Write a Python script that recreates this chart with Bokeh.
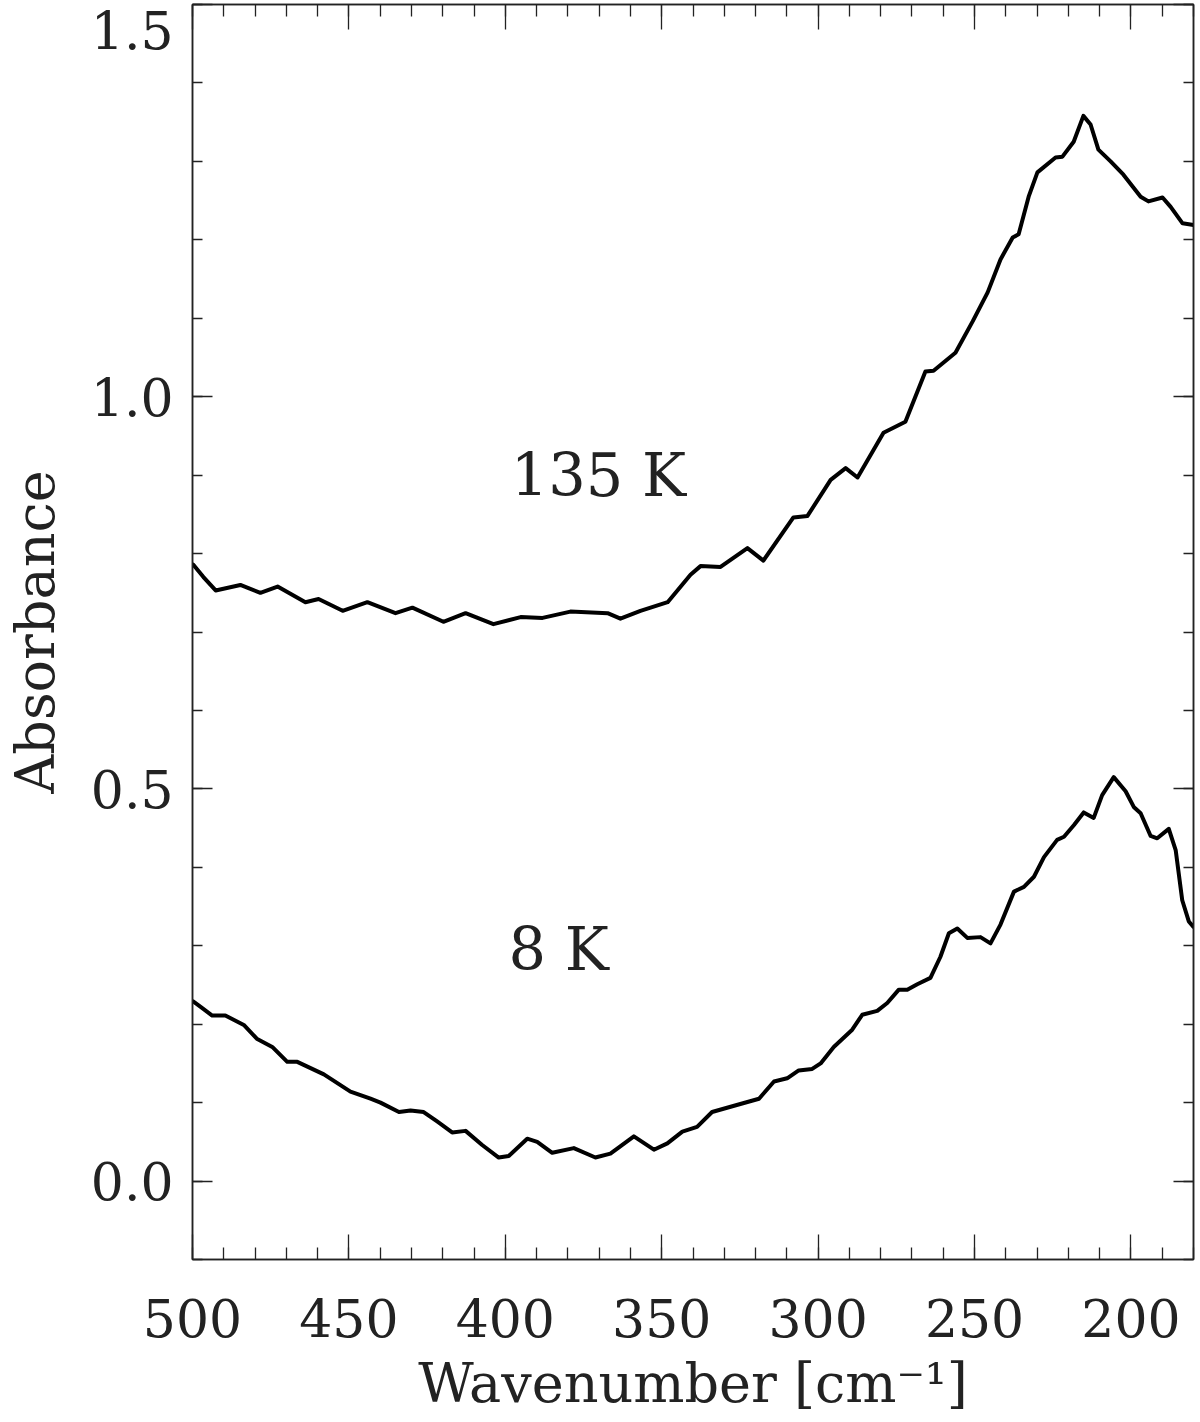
from bokeh.plotting import figure
from bokeh.models import Range1d, FixedTicker, LinearAxis, Label, PrintfTickFormatter
from bokeh.embed import file_html
from bokeh.resources import INLINE

# ---- data ----
wn_135 = [499.8, 496.5, 492.6, 484.7, 478.3, 472.8, 463.9, 459.7, 452.0, 444.1,
          435.1, 429.7, 419.8, 412.7, 403.8, 395.1, 388.1, 379.2, 367.3, 363.2,
          356.8, 348.1, 340.8, 337.6, 331.2, 322.6, 317.5, 307.9, 303.4, 296.0,
          291.2, 287.4, 279.1, 272.1, 265.7, 263.1, 256.1, 250.6, 245.8, 241.7,
          237.8, 235.9, 232.7, 229.9, 224.1, 221.9, 218.3, 215.2, 212.9, 210.4,
          206.5, 202.4, 196.9, 194.4, 189.9, 187.3, 183.5, 180.0]
abs_135 = [0.786, 0.770, 0.753, 0.760, 0.750, 0.758, 0.738, 0.742, 0.727, 0.738,
           0.724, 0.731, 0.713, 0.724, 0.710, 0.719, 0.718, 0.726, 0.724, 0.717,
           0.727, 0.738, 0.773, 0.784, 0.783, 0.807, 0.791, 0.846, 0.848, 0.894,
           0.909, 0.897, 0.954, 0.968, 1.032, 1.033, 1.056, 1.096, 1.133, 1.175,
           1.203, 1.207, 1.255, 1.286, 1.305, 1.306, 1.325, 1.358, 1.347, 1.315,
           1.300, 1.283, 1.255, 1.249, 1.254, 1.242, 1.221, 1.219]

wn_8 = [499.8, 497.4, 493.7, 489.5, 483.6, 479.3, 474.5, 469.7, 466.5, 458.0,
        449.5, 443.1, 439.9, 434.0, 430.3, 426.1, 421.8, 417.0, 412.7, 407.4,
        402.1, 398.9, 393.0, 389.8, 385.0, 378.1, 371.2, 366.4, 358.9, 352.5,
        348.2, 343.4, 338.7, 333.9, 326.0, 318.9, 314.1, 309.9, 306.2, 301.9,
        299.2, 295.0, 289.1, 285.9, 281.1, 277.9, 274.2, 271.5, 268.3, 264.1,
        260.9, 258.2, 255.5, 252.3, 248.1, 244.9, 241.7, 237.4, 234.2, 231.0,
        227.8, 223.6, 221.4, 218.2, 215.1, 211.9, 209.2, 205.5, 201.7, 199.1,
        196.9, 193.7, 191.6, 187.9, 185.7, 183.6, 181.5, 180.0]
abs_8 = [0.229, 0.222, 0.211, 0.211, 0.199, 0.181, 0.171, 0.152, 0.152, 0.136,
         0.114, 0.105, 0.100, 0.088, 0.090, 0.088, 0.076, 0.062, 0.064, 0.046,
         0.030, 0.032, 0.054, 0.050, 0.036, 0.042, 0.030, 0.035, 0.057, 0.040,
         0.048, 0.063, 0.069, 0.088, 0.097, 0.105, 0.127, 0.131, 0.141, 0.143,
         0.150, 0.171, 0.193, 0.212, 0.217, 0.227, 0.244, 0.244, 0.251, 0.259,
         0.286, 0.316, 0.322, 0.310, 0.311, 0.303, 0.327, 0.369, 0.375, 0.388,
         0.413, 0.435, 0.439, 0.454, 0.470, 0.463, 0.492, 0.515, 0.497, 0.477,
         0.469, 0.440, 0.437, 0.449, 0.422, 0.358, 0.331, 0.324]

x_major_ticks = [500, 450, 400, 350, 300, 250, 200]
x_minor_ticks = list(range(180, 501, 10))
y_major_ticks = [0.0, 0.5, 1.0, 1.5]
y_minor_ticks = [round(-0.1 + 0.1 * i, 1) for i in range(17)]

series_labels = ["135 K", "8 K"]
x_title = "Wavenumber [cm\u207b\u00b9]"
y_title = "Absorbance"

FONT = "DejaVu Serif"
INK = "#222222"

p = figure(width=1198, height=1420,
           x_range=Range1d(500, 180), y_range=Range1d(-0.1, 1.5),
           output_backend="svg", toolbar_location=None,
           y_axis_location=None,
           min_border_left=192, min_border_right=5,
           min_border_top=4, min_border_bottom=161,
           x_axis_label=x_title)
p.grid.visible = False
p.outline_line_color = INK
p.outline_line_width = 1.5
p.background_fill_color = "white"
p.border_fill_color = "white"


def tick_only(ax):
    ax.major_label_text_color = None
    ax.major_label_text_font_size = "1px"
    ax.major_label_standoff = 0


# left: tick marks next to the frame
yl_ticks = LinearAxis(ticker=FixedTicker(ticks=y_major_ticks, minor_ticks=y_minor_ticks))
tick_only(yl_ticks)
p.add_layout(yl_ticks, "left")
# left: tick labels + title (the top label sits just below the frame corner)
yl_labels = LinearAxis(ticker=FixedTicker(ticks=[0.0, 0.5, 1.0, 1.468], minor_ticks=[]),
                       formatter=PrintfTickFormatter(format="%.1f"),
                       axis_label=y_title)
yl_labels.axis_line_color = None
yl_labels.major_tick_line_color = None
yl_labels.minor_tick_line_color = None
p.add_layout(yl_labels, "left")

yr = LinearAxis(ticker=FixedTicker(ticks=y_major_ticks, minor_ticks=y_minor_ticks))
tick_only(yr)
p.add_layout(yr, "right")
xt = LinearAxis(ticker=FixedTicker(ticks=x_major_ticks, minor_ticks=x_minor_ticks))
tick_only(xt)
p.add_layout(xt, "above")

bx = p.below[0]
bx.ticker = FixedTicker(ticks=x_major_ticks, minor_ticks=x_minor_ticks)

for ax in (bx, xt):
    ax.major_tick_in = 25
    ax.major_tick_out = 0
    ax.minor_tick_in = 12
    ax.minor_tick_out = 0
for ax in (yl_ticks, yr):
    ax.major_tick_in = 20
    ax.major_tick_out = 0
    ax.minor_tick_in = 10
    ax.minor_tick_out = 0
yl_labels.major_tick_in = 0
yl_labels.major_tick_out = 0
yl_labels.minor_tick_in = 0
yl_labels.minor_tick_out = 0

for ax in (bx, xt, yl_ticks, yr):
    ax.axis_line_color = INK
    ax.axis_line_width = 1.5
    ax.major_tick_line_color = INK
    ax.minor_tick_line_color = INK
    ax.major_tick_line_width = 1.3
    ax.minor_tick_line_width = 1.3

for ax in (bx, yl_labels):
    ax.major_label_text_font = FONT
    ax.major_label_text_color = INK
    ax.major_label_text_font_size = "52px"
    ax.axis_label_text_font = FONT
    ax.axis_label_text_font_style = "normal"
    ax.axis_label_text_color = INK
    ax.axis_label_text_font_size = "54px"

bx.major_label_standoff = 39
bx.axis_label_standoff = 12
yl_labels.major_label_standoff = 19
yl_labels.axis_label_standoff = 21

p.line(wn_135, abs_135, line_width=4, line_color="black",
       line_join="round", line_cap="round")
p.line(wn_8, abs_8, line_width=4, line_color="black",
       line_join="round", line_cap="round")

p.add_layout(Label(x=398.3, y=0.90, text=series_labels[0],
                   text_font=FONT, text_font_size="59px",
                   text_baseline="alphabetic", text_color=INK))
p.add_layout(Label(x=399.0, y=0.295, text=series_labels[1],
                   text_font=FONT, text_font_size="59px",
                   text_baseline="alphabetic", text_color=INK))

open("out.html", "w").write(file_html(p, INLINE))
